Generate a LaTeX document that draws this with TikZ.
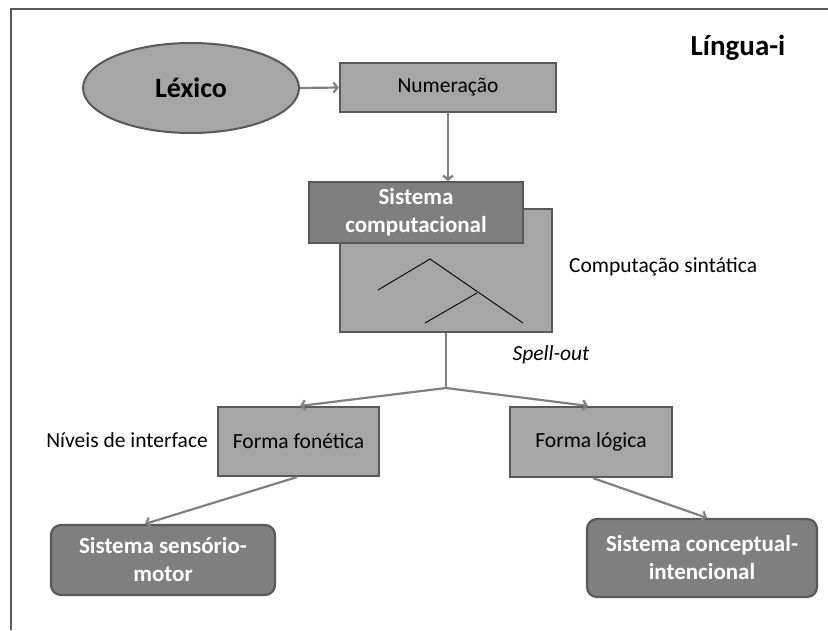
\documentclass[tikz,border=0pt]{standalone}
\usepackage{fontspec}
\setmainfont{Carlito}
\usetikzlibrary{shapes.geometric,arrows.meta,calc}
\definecolor{lgray}{HTML}{A6A6A6}
\definecolor{dgray}{HTML}{7F7F7F}
\definecolor{edgec}{HTML}{595959}
\definecolor{arrc}{HTML}{808080}
\begin{document}
\begin{tikzpicture}[x=1pt,y=-1pt,
  lightbox/.style={draw=edgec,line width=2.2pt,fill=lgray,inner sep=0pt,font=\fontsize{21.5}{26}\selectfont},
  darkbox/.style={draw=edgec,line width=2.2pt,fill=dgray,inner sep=0pt,text=white,font=\fontsize{23}{28}\bfseries\selectfont,align=center},
  conn/.style={draw=arrc,line width=2.2pt,-{Straight Barb[length=4pt,width=10pt]}},
  lbl/.style={inner sep=0pt,font=\fontsize{21.5}{26}\selectfont}]
\useasboundingbox (0,0) rectangle (828,630);
\fill[white] (0,0) rectangle (828,630);
\draw[edgec,line width=2pt] (11,630) |- (828,9);
% nodes
\node[ellipse,draw=edgec,line width=2pt,fill=lgray,minimum width=216pt,minimum height=90pt,inner sep=0pt,font=\fontsize{28}{32}\bfseries\selectfont] (lex) at (191,88) {Léxico};
\node[lightbox,minimum width=216pt,minimum height=49pt] (num) at (448,87.5) {Numeração};
\node[lightbox,minimum width=212pt,minimum height=123pt] (comp) at (446,270.5) {};
\node[darkbox,minimum width=214pt,minimum height=61pt] (sc) at (416,212.5) {Sistema\\computacional};
\node[lightbox,minimum width=161pt,minimum height=69pt] (ff) at (298.5,441.5) {Forma fonética};
\node[lightbox,minimum width=162pt,minimum height=70pt] (fl) at (591,442) {Forma lógica};
\node[darkbox,rounded corners=10pt,minimum width=224pt,minimum height=70pt] (ssm) at (163,560) {Sistema sensório-\\motor};
\node[darkbox,rounded corners=10pt,minimum width=230pt,minimum height=78pt] (sci) at (702,558) {Sistema conceptual-\\intencional};
% labels
\node[inner sep=0pt,font=\fontsize{29}{33}\bfseries\selectfont] (li) at (738,48) {Língua-i};
\node[lbl,anchor=west] (cs) at (569,267) {Computação sintática};
\node[lbl,font=\fontsize{21.5}{26}\itshape\selectfont] (so) at (551,355) {Spell-out};
\node[lbl,anchor=east] (ni) at (208,440) {Níveis de interface};
% tree
\draw[black,line width=0.9pt] (378,290) -- (430,259) -- (523,323);
\draw[black,line width=0.9pt] (425,323) -- (477,293);
% connectors
\draw[conn] (lex.east) -- (num.west);
\draw[conn] (num.south) -- (num.south |- sc.north);
\coordinate (br) at (446,388);
\draw[draw=arrc,line width=2.2pt] (comp.south) -- (br);
\draw[conn] (br) -- ([xshift=1.5pt]ff.north);
\draw[conn] (br) -- ([xshift=-3pt]fl.north);
\draw[conn] ([xshift=-1.5pt]ff.south) -- ([xshift=-18pt]ssm.north);
\draw[conn] ([xshift=2pt]fl.south) -- ([xshift=5pt]sci.north);
\end{tikzpicture}
\end{document}
